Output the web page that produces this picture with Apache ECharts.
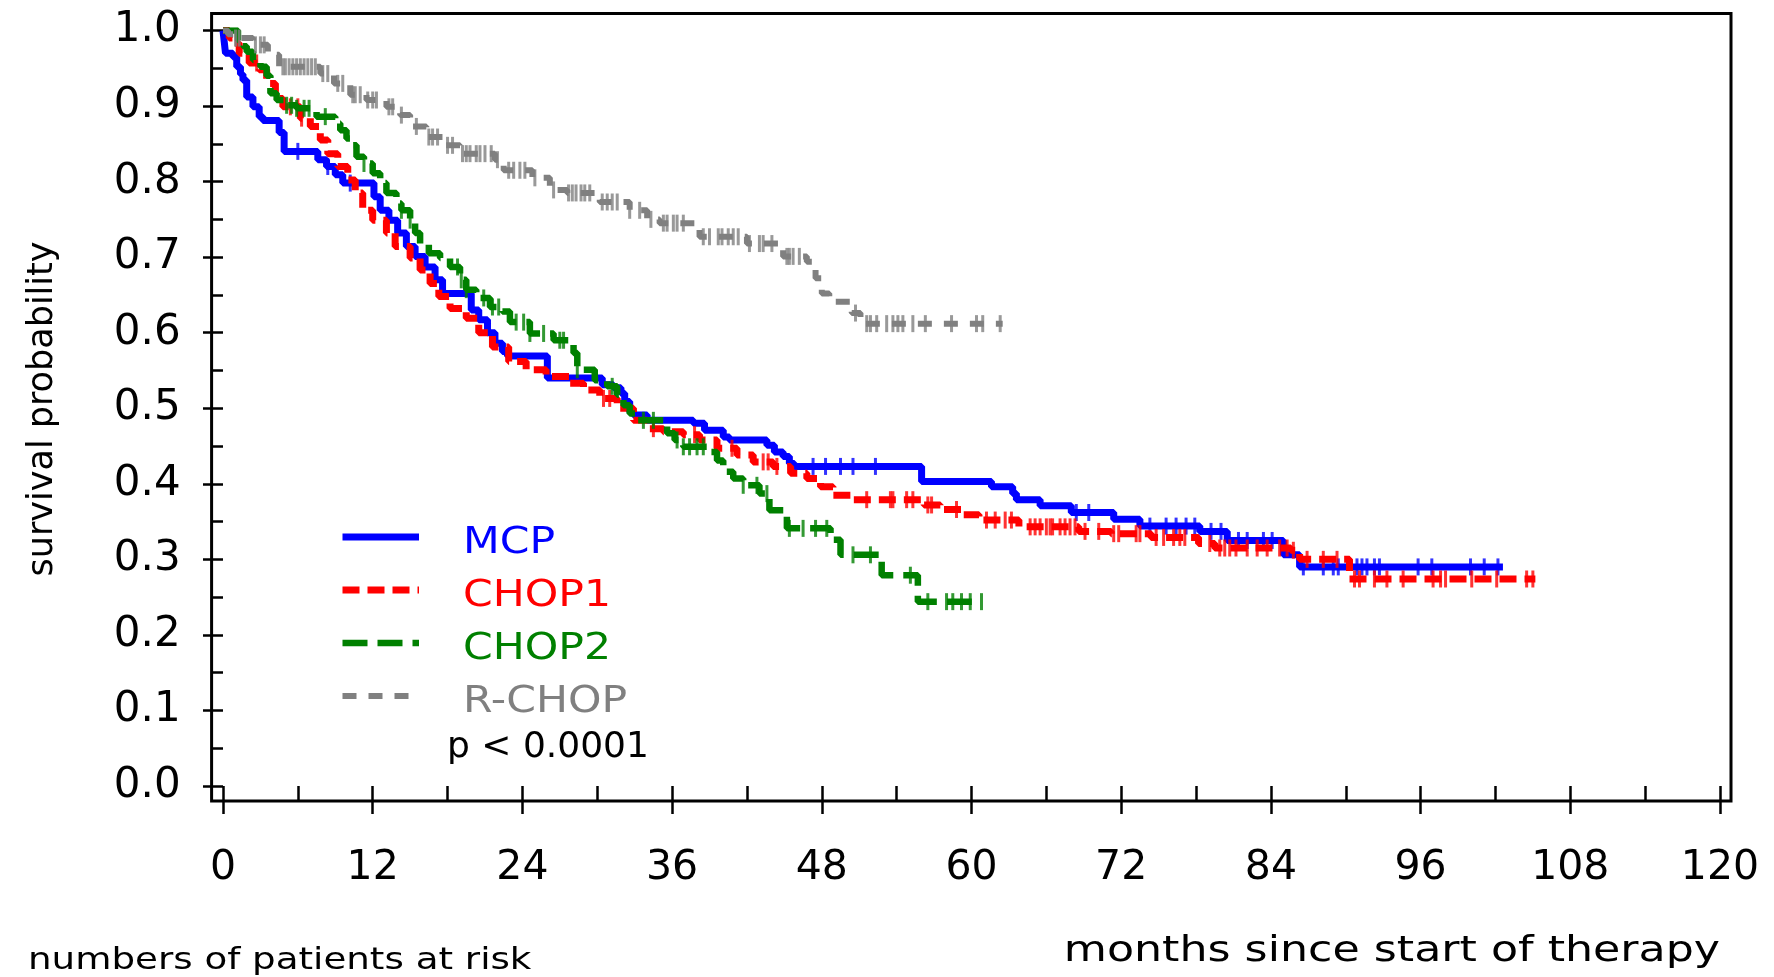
<!DOCTYPE html>
<html><head><meta charset="utf-8">
<script src="https://cdn.jsdelivr.net/npm/echarts@6/dist/echarts.min.js"></script>
<style>html,body{margin:0;padding:0;background:#fff}#c{width:1774px;height:977px}</style>
</head><body><div id="c"></div>
<script>
// ---------- data (months, survival probability) ----------
const seriesNames = ['MCP', 'CHOP1', 'CHOP2', 'R-CHOP'];
const xTickMonths = [0, 12, 24, 36, 48, 60, 72, 84, 96, 108, 120];
const yTickValues = [0.0, 0.1, 0.2, 0.3, 0.4, 0.5, 0.6, 0.7, 0.8, 0.9, 1.0];

const mcpSteps = [[0,1.0],[0.1,0.985],[0.2,0.97],[0.8,0.965],[1.1,0.952],[1.4,0.942],[1.6,0.934],[1.9,0.912],[2.4,0.899],[2.9,0.886],[3.2,0.881],[4.5,0.865],[4.9,0.84],[7.6,0.829],[8.3,0.82],[9.0,0.809],[9.6,0.798],[12.1,0.78],[12.6,0.762],[13.3,0.749],[14.0,0.732],[14.7,0.714],[15.4,0.701],[16.2,0.687],[17.0,0.67],[17.6,0.652],[19.9,0.63],[20.5,0.617],[21.2,0.6],[21.8,0.586],[22.4,0.575],[22.8,0.569],[26.0,0.54],[30.4,0.531],[31.3,0.527],[31.9,0.52],[32.2,0.509],[32.6,0.495],[32.9,0.491],[34.0,0.484],[37.7,0.48],[38.6,0.471],[40.1,0.462],[40.6,0.458],[43.6,0.451],[44.2,0.442],[44.9,0.436],[45.4,0.427],[45.8,0.423],[56.0,0.403],[61.6,0.396],[63.3,0.387],[63.6,0.379],[65.5,0.371],[68.0,0.362],[71.4,0.353],[73.5,0.344],[78.3,0.337],[80.5,0.325],[85.0,0.306],[86.3,0.29],[102.6,0.29]];
const mcpCensored = [6.0, 8.4, 10.2, 47.3, 48.3, 49.5, 50.5, 52.3, 68.4, 69.4, 74.3, 75.6, 76.4, 77.2, 77.9, 79.2, 80.0, 81.4, 82.1, 83.4, 84.1, 86.6, 88.2, 89.0, 89.4, 90.9, 91.3, 91.7, 92.3, 92.7, 95.8, 96.9, 100.0, 101.1, 102.2];

const chop1Steps = [[0,1.0],[0.5,0.99],[0.9,0.983],[1.3,0.97],[2.1,0.957],[2.9,0.948],[3.5,0.93],[4.2,0.91],[4.8,0.899],[6.2,0.884],[7.0,0.873],[7.8,0.855],[8.4,0.837],[9.2,0.82],[10.0,0.802],[10.6,0.785],[11.2,0.762],[12.0,0.749],[13.1,0.732],[13.8,0.714],[15.0,0.699],[15.8,0.683],[16.6,0.665],[17.3,0.648],[18.2,0.632],[19.5,0.619],[20.5,0.6],[21.6,0.581],[22.9,0.562],[24.3,0.551],[25.9,0.542],[27.8,0.533],[28.9,0.524],[30.2,0.513],[31.6,0.5],[32.9,0.484],[34.0,0.473],[35.3,0.469],[36.9,0.465],[38.2,0.458],[39.6,0.447],[41.2,0.438],[42.5,0.429],[44.1,0.423],[45.5,0.414],[46.8,0.407],[47.9,0.396],[48.9,0.385],[50.4,0.379],[56.2,0.372],[57.5,0.366],[59.2,0.359],[60.6,0.352],[63.8,0.343],[68.6,0.337],[71.2,0.334],[74.4,0.329],[78.2,0.321],[79.5,0.315],[85.6,0.312],[86.3,0.3],[90.3,0.274],[105.2,0.274]];
const chop1Censored = [2.7, 5.4, 6.0, 6.3, 30.5, 31.0, 34.5, 37.8, 40.8, 43.3, 43.7, 44.4, 51.6, 53.5, 53.7, 54.8, 55.3, 56.5, 56.8, 58.8, 61.2, 61.9, 62.7, 63.2, 64.7, 65.1, 65.5, 66.0, 66.3, 66.5, 67.1, 67.5, 67.9, 68.3, 69.1, 70.2, 71.4, 71.8, 73.2, 73.5, 74.8, 75.4, 76.2, 76.7, 77.1, 79.1, 79.9, 80.3, 80.7, 81.2, 82.1, 82.9, 83.7, 84.7, 85.3, 85.8, 86.9, 88.2, 89.3, 90.7, 91.1, 92.3, 93.3, 94.6, 97.0, 97.6, 98.0, 100.1, 102.1, 104.5, 105.0];

const chop2Steps = [[0,1.0],[1.2,0.987],[1.6,0.979],[1.9,0.972],[2.4,0.961],[3.0,0.952],[3.5,0.94],[3.8,0.917],[4.3,0.908],[5.1,0.901],[5.9,0.897],[7.5,0.886],[9.0,0.877],[9.4,0.868],[9.9,0.857],[10.4,0.848],[10.7,0.833],[11.3,0.824],[12.0,0.811],[12.6,0.798],[13.1,0.785],[13.9,0.771],[14.3,0.762],[15.0,0.749],[15.4,0.732],[15.8,0.718],[16.5,0.705],[17.4,0.699],[18.2,0.687],[19.0,0.67],[19.5,0.657],[20.3,0.646],[21.4,0.634],[22.4,0.628],[23.0,0.614],[24.6,0.599],[26.5,0.59],[28.1,0.573],[28.4,0.551],[29.8,0.537],[30.8,0.529],[31.6,0.518],[32.1,0.504],[32.6,0.493],[33.2,0.484],[35.6,0.467],[36.2,0.458],[36.9,0.449],[39.0,0.442],[39.6,0.431],[40.1,0.416],[40.9,0.407],[41.7,0.398],[43.0,0.387],[43.8,0.365],[45.2,0.341],[48.7,0.326],[49.5,0.306],[52.8,0.279],[55.7,0.244],[60.8,0.244]];
const chop2Censored = [5.1, 5.5, 5.9, 6.5, 6.9, 8.2, 11.3, 14.3, 15.0, 18.8, 19.1, 19.5, 20.9, 21.6, 22.1, 23.5, 24.1, 24.6, 25.7, 27.0, 27.3, 28.4, 31.2, 33.7, 34.5, 36.4, 36.9, 37.4, 38.0, 38.5, 41.7, 42.8, 43.6, 45.4, 46.5, 47.5, 48.4, 50.5, 51.9, 55.1, 56.5, 58.0, 58.5, 59.2, 59.9, 60.8];

const rchopSteps = [[0,1.0],[0.4,0.995],[0.9,0.99],[2.4,0.981],[3.6,0.968],[4.5,0.952],[7.8,0.943],[8.9,0.93],[10.2,0.915],[11.5,0.908],[13.1,0.899],[14.2,0.888],[15.0,0.873],[16.3,0.859],[17.7,0.848],[19.0,0.837],[21.8,0.829],[22.5,0.815],[24.8,0.805],[26.2,0.789],[27.6,0.785],[30.2,0.773],[32.6,0.762],[34.0,0.75],[35.0,0.745],[38.2,0.727],[42.0,0.718],[44.9,0.701],[46.8,0.694],[47.5,0.672],[48.0,0.652],[48.6,0.641],[50.4,0.626],[51.1,0.612],[62.5,0.612]];
const rchopCensored = [1.0, 1.3, 2.6, 3.0, 3.3, 4.8, 5.0, 5.3, 5.6, 5.9, 6.2, 6.5, 6.8, 7.1, 7.4, 8.0, 8.4, 9.2, 9.6, 10.4, 10.6, 11.0, 11.6, 12.0, 12.3, 13.3, 13.6, 14.3, 15.5, 16.5, 16.8, 17.2, 18.0, 18.4, 19.2, 19.5, 19.8, 20.3, 20.6, 21.0, 21.5, 22.0, 22.9, 23.3, 23.8, 24.2, 25.0, 26.5, 27.7, 28.0, 28.3, 28.7, 29.0, 29.4, 30.4, 30.8, 31.2, 31.6, 32.6, 33.4, 34.3, 35.3, 35.6, 36.1, 36.4, 36.9, 38.5, 39.0, 39.7, 40.0, 40.5, 40.9, 41.3, 42.2, 43.0, 43.3, 44.0, 45.2, 45.4, 45.7, 46.2, 50.7, 51.6, 51.9, 52.4, 53.2, 53.7, 54.1, 54.5, 55.3, 56.3, 58.4, 60.4, 60.9, 62.3];

const pValueText = 'p < 0.0001';

// ---------- styles ----------
const FONT = '"DejaVu Sans", "Liberation Sans", sans-serif';
const styles = [
  {steps: mcpSteps,   cens: mcpCensored,   color: '#0000ff', width: 7,   dash: 'solid'},
  {steps: chop1Steps, cens: chop1Censored, color: '#ff0000', width: 7,   dash: [17, 8]},
  {steps: chop2Steps, cens: chop2Censored, color: '#008000', width: 6.5, dash: [25, 10]},
  {steps: rchopSteps, cens: rchopCensored, color: '#808080', width: 6,   dash: [14, 12]}
];

function survAt(steps, t) {
  let v = steps[0][1];
  for (const s of steps) { if (s[0] <= t) v = s[1]; else break; }
  return v;
}

const series = [];
styles.forEach((st, i) => {
  series.push({
    name: seriesNames[i], type: 'line', step: 'end', showSymbol: false, symbol: 'none',
    data: st.steps, lineStyle: {color: st.color, width: st.width, type: st.dash},
    itemStyle: {color: st.color}, z: 2 + i, silent: true
  });
  series.push({
    name: seriesNames[i] + ' censored', type: 'scatter', symbol: 'rect', symbolSize: [3, 17],
    data: st.cens.map(t => [t, survAt(st.steps, t)]),
    itemStyle: {color: st.color}, z: 2 + i, silent: true
  });
});

// legend drawn as graphics
const legendY = [537, 590, 643, 696];
const legendTextY = [543, 596, 649, 702];
const graphics = [
  {type: 'rect', shape: {x: 211.6, y: 13.6, width: 1519.4, height: 787.4},
   style: {fill: 'none', stroke: '#000', lineWidth: 3}, z: 1, silent: true},
  {type: 'text', x: 43, y: 409, rotation: Math.PI / 2,
   style: {text: 'survival probability', font: '35px ' + FONT, fill: '#000', textAlign: 'center', textVerticalAlign: 'middle', verticalAlign: 'middle'}},
  {type: 'text', x: 1720, y: 952, scaleX: 1.23,
   style: {text: 'months since start of therapy', font: '36px ' + FONT, fill: '#000', textAlign: 'right', textVerticalAlign: 'middle', verticalAlign: 'middle'}},
  {type: 'text', x: 28, y: 961, scaleX: 1.2,
   style: {text: 'numbers of patients at risk', font: '31px ' + FONT, fill: '#000', textAlign: 'left', textVerticalAlign: 'middle', verticalAlign: 'middle'}},
  {type: 'text', x: 447, y: 748,
   style: {text: pValueText, font: '36px ' + FONT, fill: '#000', textAlign: 'left', textVerticalAlign: 'middle', verticalAlign: 'middle'}}
];
styles.forEach((st, i) => {
  graphics.push({type: 'line', shape: {x1: 342.5, y1: legendY[i], x2: 419, y2: legendY[i]},
    style: {stroke: st.color, lineWidth: st.width, lineDash: st.dash === 'solid' ? null : st.dash}, silent: true});
  graphics.push({type: 'text', x: 463, y: legendTextY[i], scaleX: 1.12,
    style: {text: seriesNames[i], font: '38px ' + FONT, fill: st.color, textAlign: 'left', textVerticalAlign: 'middle', verticalAlign: 'middle'}});
});

const chart = echarts.init(document.getElementById('c'), null, {renderer: 'canvas'});
chart.setOption({
  animation: false,
  backgroundColor: '#fff',
  grid: {left: 223, right: 54, top: 30.5, bottom: 191, containLabel: false},
  xAxis: {
    type: 'value', min: xTickMonths[0], max: xTickMonths[xTickMonths.length - 1], interval: 12, offset: 15,
    axisLine: {show: false}, splitLine: {show: false},
    axisTick: {show: true, length: 28, lineStyle: {color: '#000', width: 2.5}},
    minorTick: {show: true, splitNumber: 2, length: 15, lineStyle: {color: '#000', width: 2.5}},
    axisLabel: {margin: 47, fontSize: 41, fontFamily: FONT, color: '#000',
      formatter: v => xTickMonths.includes(v) ? String(v) : ''}
  },
  yAxis: {
    type: 'value', min: yTickValues[0], max: yTickValues[yTickValues.length - 1], interval: 0.1, offset: 11.4,
    axisLine: {show: false}, splitLine: {show: false},
    axisTick: {show: true, length: 20, lineStyle: {color: '#000', width: 2.5}},
    minorTick: {show: true, splitNumber: 2, length: 10, lineStyle: {color: '#000', width: 2.5}},
    axisLabel: {margin: 31, fontSize: 42, fontFamily: FONT, color: '#000', formatter: v => v.toFixed(1)}
  },
  graphic: graphics,
  series: series
});
</script></body></html>
